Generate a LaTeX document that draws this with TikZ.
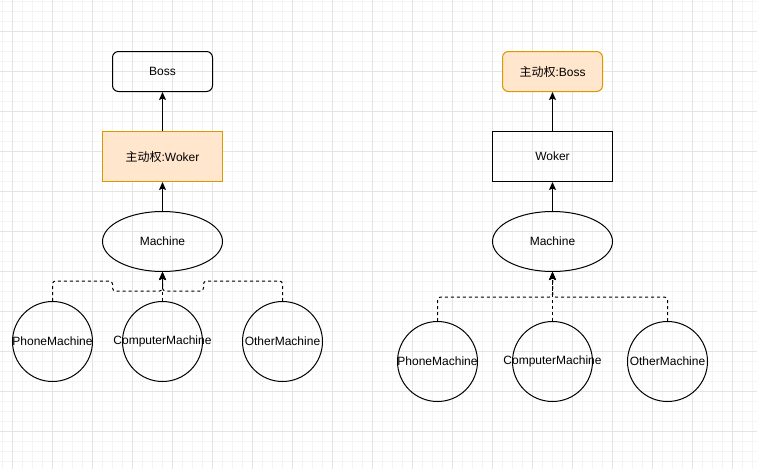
\documentclass[tikz,border=0pt]{standalone}
\usepackage{fontspec}
\setmainfont{Liberation Sans}
\newfontfamily\cjk{Noto Sans CJK SC}
\usepackage{tikz}
\usetikzlibrary{arrows.meta,shapes.geometric}
\definecolor{roleFill}{HTML}{FFE6CC}
\definecolor{roleLine}{HTML}{D79B00}
\definecolor{gridMajor}{HTML}{E4E4E4}
\definecolor{gridMinor}{HTML}{F4F4F4}
\tikzset{every node/.append style={font=\fontsize{12pt}{14pt}\selectfont}}
\tikzset{
  boss/.style={draw, line width=1pt, rectangle, rounded corners=6pt, minimum width=100pt, minimum height=40pt, inner sep=0pt},
  worker/.style={draw, line width=1pt, rectangle, minimum width=120pt, minimum height=50pt, inner sep=0pt},
  owner/.style={fill=roleFill, draw=roleLine},
  machine/.style={draw, line width=1pt, shape = ellipse, minimum width=120pt, minimum height=60pt, inner sep=0pt},
  impl/.style={draw, line width=1pt, shape = circle, minimum size=80pt, inner sep=0pt},
  uses/.style={line width=1pt, -{Stealth[length=8pt,width=7pt,inset=1.5pt]}},
  depend/.style={line width=1pt, dash pattern=on 3pt off 3pt, rounded corners=3pt, -{Stealth[length=8pt,width=7pt,inset=1.5pt]}}
}

\begin{document}
\begin{tikzpicture}[x=1pt, y=-1pt]
    \useasboundingbox (0,0) rectangle (757,469);
    \fill[white] (0,0) rectangle (757,469);

    % grid
    \foreach \gx in {2.5,12.5,...,752.5} \draw[gridMinor, line width=1pt] (\gx,0) -- (\gx,469);
    \foreach \gy in {1.5,11.5,...,461.5} \draw[gridMinor, line width=1pt] (0,\gy) -- (757,\gy);
    \foreach \gx in {12.5,52.5,...,732.5} \draw[gridMajor, line width=1pt] (\gx,0) -- (\gx,469);
    \foreach \gy in {31.5,71.5,...,431.5} \draw[gridMajor, line width=1pt] (0,\gy) -- (757,\gy);

    % left: worker holds the initiative
    \node[boss] (lboss) at (162.5,71.5) {Boss};
    \node[worker, owner] (lworker) at (162.5,156.5) {{\cjk 主动权}:Woker};
    \node[machine] (lmachine) at (162.5,241.5) {Machine};
    \node[impl, label=center:PhoneMachine] (lphone) at (52.5,341.5) {};
    \node[impl, label=center:ComputerMachine] (lcomputer) at (162.5,341.5) {};
    \node[impl, label=center:OtherMachine] (lother) at (282.5,341.5) {};

    \draw[uses] (lworker) -- (lboss);
    \draw[uses] (lmachine) -- (lworker);
    \draw[depend] (lphone.north) -- ++(0,-20) -- ++(60,0) -- ++(0,10) -| (lmachine.south);
    \draw[depend] (lcomputer.north) -- (lmachine.south);
    \draw[depend] (lother.north) -- ++(0,-20) -- ++(-79,0) -- ++(0,10) -| (lmachine.south);

    % right: boss holds the initiative
    \node[boss, owner] (rboss) at (552.5,71.5) {{\cjk 主动权}:Boss};
    \node[worker] (rworker) at (552.5,156.5) {Woker};
    \node[machine] (rmachine) at (552.5,241.5) {Machine};
    \node[impl, label=center:PhoneMachine] (rphone) at (437.5,361.5) {};
    \node[impl, label=center:ComputerMachine] (rcomputer) at (552.5,361.5) {};
    \node[impl, label=center:OtherMachine] (rother) at (667.5,361.5) {};

    \draw[uses] (rworker) -- (rboss);
    \draw[uses] (rmachine) -- (rworker);
    \draw[depend] (rphone.north) -- ++(0,-24) -| (rmachine.south);
    \draw[depend] (rcomputer.north) -- (rmachine.south);
    \draw[depend] (rother.north) -- ++(0,-24) -| (rmachine.south);
\end{tikzpicture}
\end{document}
